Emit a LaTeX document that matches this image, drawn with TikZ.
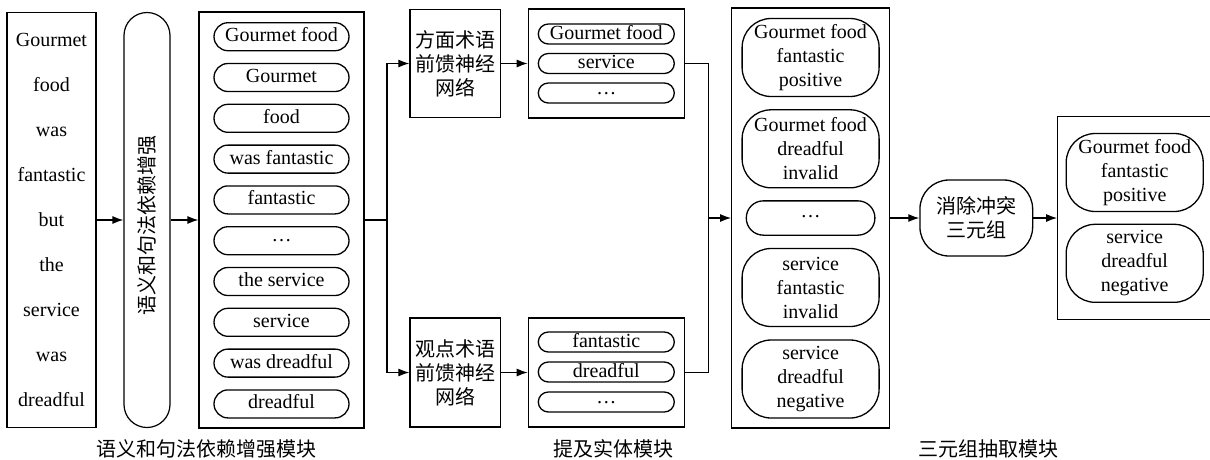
\documentclass[tikz,border=0pt]{standalone}
\usepackage{fontspec}
\setmainfont{Liberation Serif}
\newfontfamily\cjk{Noto Sans CJK SC}
\usetikzlibrary{arrows.meta}
\newcommand{\mdots}{\raisebox{4pt}{…}}
\tikzset{
	box/.style={draw, line width=1.2pt, inner sep=0pt},
	word/.style={draw, line width=1.3pt, rounded corners=14pt, minimum width=135pt, minimum height=28pt, inner sep=0pt, text height=14pt, text depth=4pt},
	ent/.style={draw, line width=1.3pt, rounded corners=10pt, minimum width=136pt, minimum height=20pt, inner sep=0pt, text height=13pt, text depth=3pt},
	triple/.style={draw, line width=1.3pt, rounded corners=29pt, minimum width=137pt, minimum height=78pt, inner sep=0pt, align=center},
	zh/.style={font=\cjk\fontsize{20}{24}\selectfont, align=center}
}

\begin{document}
\begin{tikzpicture}[x=1pt, y=-1pt, line width=1.2pt, >={Latex[length=11pt,width=8pt]}, font=\fontsize{20}{24}\selectfont]
	\useasboundingbox (0,0) rectangle (1210,459);

	\node[box, minimum width=89pt, minimum height=415pt, align=center, font=\fontsize{20}{45}\selectfont] (sent) at (51.5,220) {Gourmet\\food\\was\\fantastic\\but\\the\\service\\was\\dreadful};
	\node[box, rounded corners=23pt, minimum width=46pt, minimum height=415pt] (sdep) at (147,220) {};
	\node[zh, rotate=90] (sdeptxt) at (147,225) {语义和句法依赖增强};

	\node[box, minimum width=165pt, minimum height=416pt] (spans) at (281.5,220) {};
	\foreach \t [count=\i] in {Gourmet food, Gourmet, food, was fantastic, fantastic, \mdots, the service, service, was dreadful, dreadful}
		\node[word] (w\i) at (281.5,{36.7+40.8*(\i-1)}) {\t};

	\node[box, zh, minimum width=90.7pt, minimum height=108pt] (affn) at (455.3,63.5) {方面术语\\前馈神经\\网络};
	\node[box, minimum width=156pt, minimum height=109pt] (alist) at (606.3,63.5) {};
	\node[ent] (a1) at (606.3,34) {Gourmet food};
	\node[ent] (a2) at (606.3,63.5) {service};
	\node[ent] (a3) at (606.3,93) {\mdots};

	\node[box, zh, minimum width=90.7pt, minimum height=109pt] (offn) at (455.3,372.5) {观点术语\\前馈神经\\网络};
	\node[box, minimum width=156pt, minimum height=109pt] (olist) at (606.3,372.5) {};
	\node[ent] (o1) at (606.3,342) {fantastic};
	\node[ent] (o2) at (606.3,372) {dreadful};
	\node[ent] (o3) at (606.3,402) {\mdots};

	\node[box, minimum width=157.6pt, minimum height=420pt] (tset) at (810.5,218) {};
	\node[triple] (t1) at (810.6,57.5) {Gourmet food\\fantastic\\positive};
	\node[triple] (t2) at (810.6,148.8) {Gourmet food\\dreadful\\invalid};
	\node[triple, minimum width=128.6pt, minimum height=34.3pt, rounded corners=17pt] (t3) at (810.6,218) {\mdots};
	\node[triple] (t4) at (810.6,287.5) {service\\fantastic\\invalid};
	\node[triple] (t5) at (810.6,379) {service\\dreadful\\negative};

	\node[triple, zh, minimum width=112.7pt, minimum height=76pt] (rslv) at (976.3,218) {消除冲突\\三元组};

	\node[box, minimum width=156pt, minimum height=203.3pt] (res) at (1135.7,218) {};
	\node[triple] (r1) at (1134.7,172.5) {Gourmet food\\fantastic\\positive};
	\node[triple] (r2) at (1134.7,263.3) {service\\dreadful\\negative};

	\node[zh] (lab1) at (206.7,449) {语义和句法依赖增强模块};
	\node[zh] (lab2) at (613,449) {提及实体模块};
	\node[zh] (lab3) at (988,449) {三元组抽取模块};

	\coordinate (spl) at (387,220);
	\coordinate (mrg) at (708.3,218);
	\draw[->] (sent) -- (sdep);
	\draw[->] (sdep) -- (spans);
	\draw (spans) -- (spl);
	\draw[->] (spl) |- (affn);
	\draw[->] (spl) |- (offn);
	\draw[->] (affn) -- (alist);
	\draw[->] (offn) -- (olist);
	\draw (alist) -| (mrg);
	\draw (olist) -| (mrg);
	\draw[->] (mrg) -- (tset);
	\draw[->] (tset) -- (rslv);
	\draw[->] (rslv) -- (res);
\end{tikzpicture}
\end{document}
